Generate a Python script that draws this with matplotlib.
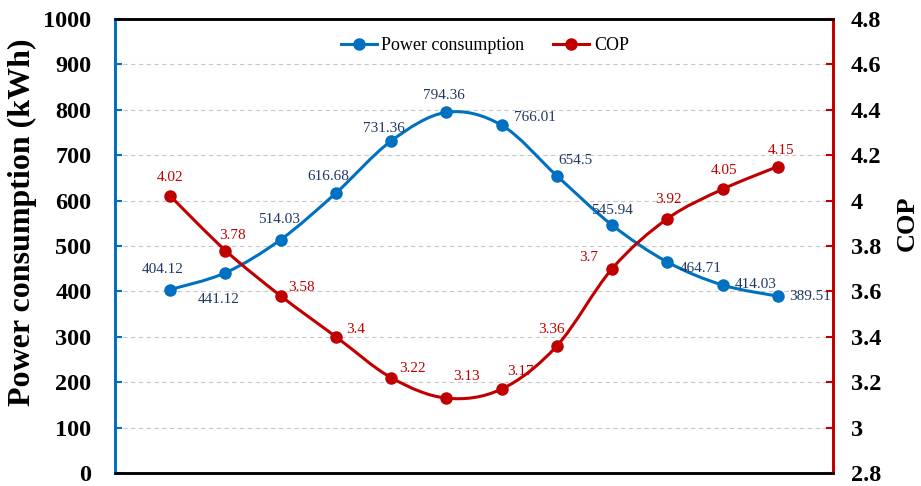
import numpy as np
import matplotlib.pyplot as plt
from matplotlib.path import Path
from matplotlib.patches import PathPatch

# Data
points = list(range(12))
power = [404.12, 441.12, 514.03, 616.68, 731.36, 794.36,
         766.01, 654.5, 545.94, 464.71, 414.03, 389.51]
cop = [4.02, 3.78, 3.58, 3.4, 3.22, 3.13,
       3.17, 3.36, 3.7, 3.92, 4.05, 4.15]
power_ticks = list(range(0, 1001, 100))
cop_ticks = [2.8, 3.0, 3.2, 3.4, 3.6, 3.8, 4.0, 4.2, 4.4, 4.6, 4.8]

# label offsets in pixels (dx, dy) relative to each marker
power_offsets = [(-8, 20), (-7, -27), (-2, 20), (-8, 17), (-7, 12), (-2, 17),
                 (33, 8), (19, 15), (0, 15), (33, -6), (33, 1), (32, 0)]
cop_offsets = [(0, 19), (7, 15), (21, 8), (20, 7), (21, 9), (20, 22),
               (19, 18), (-5, 16), (-23, 11), (1, 19), (1, 19), (3, 16)]

BLUE = '#0070C0'
RED = '#C00000'
NAVY = '#203864'
SERIF = ['Liberation Serif', 'DejaVu Serif']


def smooth_path(x, y):
    # Excel style smoothed line: cubic Bezier segments through every point
    x = np.asarray(x, float)
    y = np.asarray(y, float)
    verts = [(x[0], y[0])]
    codes = [Path.MOVETO]
    n = len(x)
    for i in range(n - 1):
        i0 = max(i - 1, 0)
        i3 = min(i + 2, n - 1)
        c1 = (x[i] + (x[i + 1] - x[i0]) / 6, y[i] + (y[i + 1] - y[i0]) / 6)
        c2 = (x[i + 1] - (x[i3] - x[i]) / 6, y[i + 1] - (y[i3] - y[i]) / 6)
        verts += [c1, c2, (x[i + 1], y[i + 1])]
        codes += [Path.CURVE4] * 3
    return Path(verts, codes)


fig = plt.figure(figsize=(9.21, 4.86), dpi=100)
ax = fig.add_axes([0.1249, 0.0267, 0.7796, 0.9343])
ax2 = ax.twinx()

ax.set_xlim(-1, 12)
ax.set_ylim(0, 1000)
ax2.set_ylim(2.8, 4.8)
ax.set_xticks([])

ax.set_yticks(power_ticks)
ax2.set_yticks(cop_ticks)
ax2.set_yticklabels(['{:g}'.format(t) for t in cop_ticks])
for a, col, pad in ((ax, BLUE, 17), (ax2, RED, 13)):
    a.tick_params(axis='y', direction='in', length=5, width=1.5, color=col,
                  labelsize=17.5, pad=pad)
    for lab in a.get_yticklabels():
        lab.set_fontfamily(SERIF)
        lab.set_fontweight('bold')

ax.grid(axis='y', linestyle=(0, (4, 3)), color='#c8c8c8', linewidth=0.8)
ax.set_axisbelow(True)

for a in (ax, ax2):
    a.spines['top'].set_color('black')
    a.spines['bottom'].set_color('black')
    a.spines['top'].set_linewidth(1.8)
    a.spines['bottom'].set_linewidth(1.8)
    a.spines['left'].set_color(BLUE)
    a.spines['right'].set_color(RED)
    a.spines['left'].set_linewidth(2)
    a.spines['right'].set_linewidth(2)

ax.set_ylabel('Power consumption (kWh)', fontsize=23, fontweight='bold',
              family=SERIF)
ax.yaxis.set_label_coords(-0.108, 0.553)
ax2.set_ylabel('COP', fontsize=19, fontweight='bold', family=SERIF)
ax2.yaxis.set_label_coords(1.087, 0.55)

# smoothed lines
ax.add_patch(PathPatch(smooth_path(points, power), facecolor='none',
                       edgecolor=BLUE, linewidth=2.2, zorder=3))
ax2.add_patch(PathPatch(smooth_path(points, cop), facecolor='none',
                        edgecolor=RED, linewidth=2.2, zorder=3))

# markers
ax.plot(points, power, linestyle='none', marker='o', markersize=8,
        color=BLUE, zorder=4)
ax2.plot(points, cop, linestyle='none', marker='o', markersize=8,
         color=RED, zorder=4)

for xi, yi, off in zip(points, power, power_offsets):
    ax.annotate('{:g}'.format(yi), (xi, yi), xytext=off,
                textcoords='offset pixels', ha='center', va='center',
                fontsize=11, color=NAVY, family=SERIF)
for xi, yi, off in zip(points, cop, cop_offsets):
    ax2.annotate('{:g}'.format(yi), (xi, yi), xytext=off,
                 textcoords='offset pixels', ha='center', va='center',
                 fontsize=11, color=RED, family=SERIF)

# legend proxies with line + marker
h1, = ax.plot([], [], color=BLUE, marker='o', markersize=8, linewidth=2.2)
h2, = ax.plot([], [], color=RED, marker='o', markersize=8, linewidth=2.2)
ax2.legend([h1, h2], ['Power consumption', 'COP'], loc='upper center',
           bbox_to_anchor=(0.515, 0.995), ncol=2, frameon=False,
           prop={'family': SERIF, 'size': 13}, handlelength=2.0,
           columnspacing=1.6, handletextpad=0.25)

fig.savefig('out.png', dpi=100)
